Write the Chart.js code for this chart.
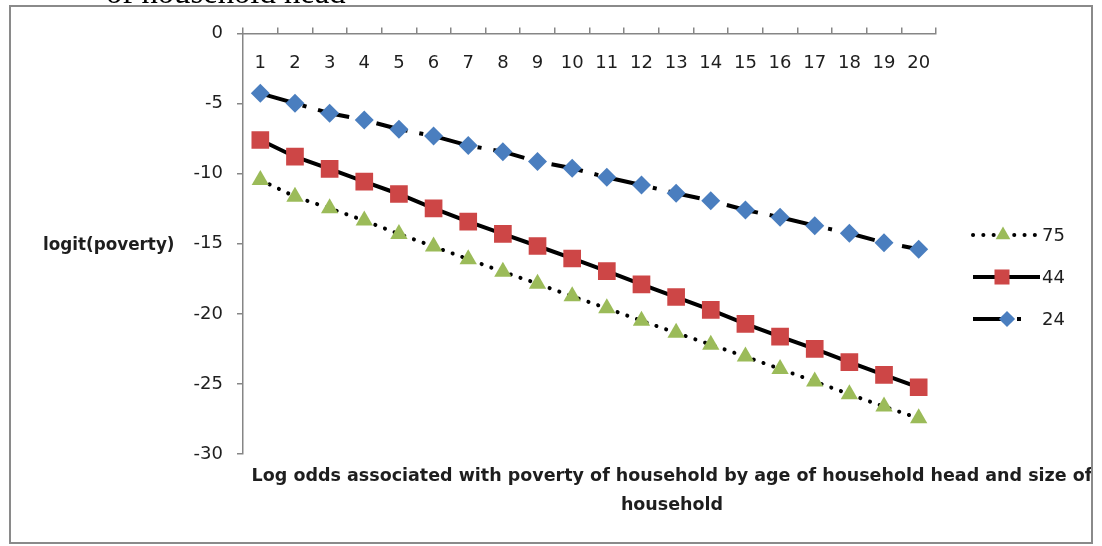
<!DOCTYPE html>
<html>
<head>
<meta charset="utf-8">
<script src="https://cdn.jsdelivr.net/npm/chart.js@4/dist/chart.umd.min.js"></script>
<style>
  html, body { margin: 0; padding: 0; background: #ffffff; }
  #wrap { width: 1102px; height: 546px; position: relative; }
</style>
</head>
<body>
<div id="wrap"><canvas id="c"></canvas></div>
<script>
// Household size (1..20) on the category axis
const householdSizes = ['1','2','3','4','5','6','7','8','9','10','11','12','13','14','15','16','17','18','19','20'];

// logit(poverty) by age of household head
const age75 = [-10.45, -11.64, -12.47, -13.35, -14.3, -15.2, -16.1, -17.0, -17.85, -18.75,
               -19.6, -20.5, -21.35, -22.2, -23.05, -23.93, -24.83, -25.73, -26.62, -27.45];
const age44 = [-7.6, -8.79, -9.66, -10.57, -11.45, -12.47, -13.42, -14.3, -15.16, -16.05,
               -16.95, -17.9, -18.8, -19.72, -20.72, -21.63, -22.5, -23.45, -24.36, -25.24];
const age24 = [-4.27, -4.98, -5.69, -6.17, -6.83, -7.31, -7.99, -8.43, -9.14, -9.61,
               -10.26, -10.81, -11.40, -11.93, -12.59, -13.11, -13.71, -14.25, -14.92, -15.39];

const seriesNames = ['75', '44', '24'];
const yMin = -30, yMax = 0, yStep = 5;

const yTitle = 'logit(poverty)';
const xTitleLines = ['Log odds associated with poverty of household by age of household head and size of', 'household'];
const captionTail = 'of household head';

const AXIS = '#868686';
const TEXT = '#1e1e1e';
const TICK_FONT = { family: 'DejaVu Sans', size: 18 };

const datasets = [
  {
    label: seriesNames[0], data: age75,
    borderColor: '#000000', borderWidth: 4, borderDash: [0.1, 10.2], borderCapStyle: 'round',
    pointStyle: 'triangle', pointRadius: 10, pointBackgroundColor: '#9BBB59', pointBorderWidth: 0,
    tension: 0
  },
  {
    label: seriesNames[1], data: age44,
    borderColor: '#000000', borderWidth: 4, borderDash: [],
    pointStyle: 'rect', pointRadius: 12.5, pointBackgroundColor: '#CD4646', pointBorderWidth: 0,
    tension: 0
  },
  {
    label: seriesNames[2], data: age24,
    borderColor: '#000000', borderWidth: 4, borderDash: [32, 12, 4, 12], borderCapStyle: 'butt',
    pointStyle: 'rectRot', pointRadius: 9.5, pointBackgroundColor: '#4A7EBF', pointBorderWidth: 0,
    tension: 0
  }
];

// Frame, titles, caption strip and the side legend
const decor = {
  id: 'decor',
  afterDraw(chart) {
    const ctx = chart.ctx;
    ctx.save();

    // outer frame of the chart object
    ctx.strokeStyle = '#8a8a8a';
    ctx.lineWidth = 2;
    ctx.strokeRect(10, 6, 1082, 537);

    // tail of the caption line above the frame
    ctx.fillStyle = '#000000';
    ctx.font = '30px "Liberation Serif"';
    let w = ctx.measureText(captionTail).width;
    const capSize = 30 * 240 / w;
    ctx.font = capSize.toFixed(1) + 'px "Liberation Serif"';
    ctx.textAlign = 'left';
    ctx.textBaseline = 'alphabetic';
    ctx.fillText(captionTail, 106, 3);

    // y title, horizontal
    ctx.fillStyle = TEXT;
    ctx.font = 'bold 16.8px "DejaVu Sans"';
    ctx.textAlign = 'left';
    ctx.textBaseline = 'middle';
    ctx.fillText(yTitle, 43, 246);

    // x title, two lines, clipped by the frame
    ctx.save();
    ctx.beginPath();
    ctx.rect(11, 7, 1080, 535);
    ctx.clip();
    ctx.font = 'bold 16px "DejaVu Sans"';
    w = ctx.measureText(xTitleLines[0]).width;
    let tSize = Math.max(14, Math.min(18, 16 * 839 / w));
    ctx.font = 'bold ' + tSize.toFixed(1) + 'px "DejaVu Sans"';
    ctx.textAlign = 'center';
    ctx.fillText(xTitleLines[0], 672, 476);
    ctx.fillText(xTitleLines[1], 672, 505);
    ctx.restore();

    // legend: line sample, marker, label
    const rows = [235, 277, 319];
    const markerX = [1003, 1002, 1007];
    const lineEnd = [1035, 1040, 1033];
    datasets.forEach((ds, i) => {
      const y = rows[i];
      ctx.save();
      ctx.strokeStyle = ds.borderColor;
      ctx.lineWidth = ds.borderWidth;
      ctx.lineCap = ds.borderCapStyle || 'butt';
      ctx.setLineDash(ds.borderDash || []);
      ctx.beginPath();
      ctx.moveTo(973, y);
      ctx.lineTo(lineEnd[i], y);
      ctx.stroke();
      ctx.restore();

      ctx.save();
      ctx.fillStyle = ds.pointBackgroundColor;
      ctx.strokeStyle = ds.pointBackgroundColor;
      Chart.helpers.drawPoint(ctx, {
        pointStyle: ds.pointStyle, radius: ds.pointRadius * 0.85, rotation: 0, borderWidth: 0
      }, markerX[i], y);
      ctx.restore();

      ctx.fillStyle = TEXT;
      ctx.font = '18px "DejaVu Sans"';
      ctx.textAlign = 'left';
      ctx.textBaseline = 'middle';
      ctx.fillText(ds.label, 1042, y + 1);
    });

    ctx.restore();
  }
};

new Chart(document.getElementById('c'), {
  type: 'line',
  data: { labels: householdSizes, datasets },
  plugins: [decor],
  options: {
    responsive: true,
    maintainAspectRatio: false,
    animation: false,
    layout: { padding: { left: 0, top: 0, right: 166, bottom: 92 } },
    plugins: {
      legend: { display: false },
      tooltip: { enabled: false },
      title: { display: false }
    },
    scales: {
      x: {
        position: 'top',
        offset: true,
        grid: { drawOnChartArea: false, offset: true, tickLength: 6, color: AXIS, lineWidth: 1.5 },
        border: { color: AXIS, width: 1.5 },
        // labels sit just below the axis line, inside the plot
        ticks: { font: TICK_FONT, color: TEXT, mirror: true, padding: 19, maxRotation: 0, autoSkip: false },
        afterFit(scale) { scale.height = 33.5; }
      },
      y: {
        min: yMin, max: yMax,
        grid: { drawOnChartArea: false, tickLength: 6, color: AXIS, lineWidth: 1.5 },
        border: { color: AXIS, width: 1.5 },
        ticks: { stepSize: yStep, font: TICK_FONT, color: TEXT, padding: 14 },
        afterFit(scale) { scale.width = 243; }
      }
    }
  }
});
</script>
</body>
</html>
